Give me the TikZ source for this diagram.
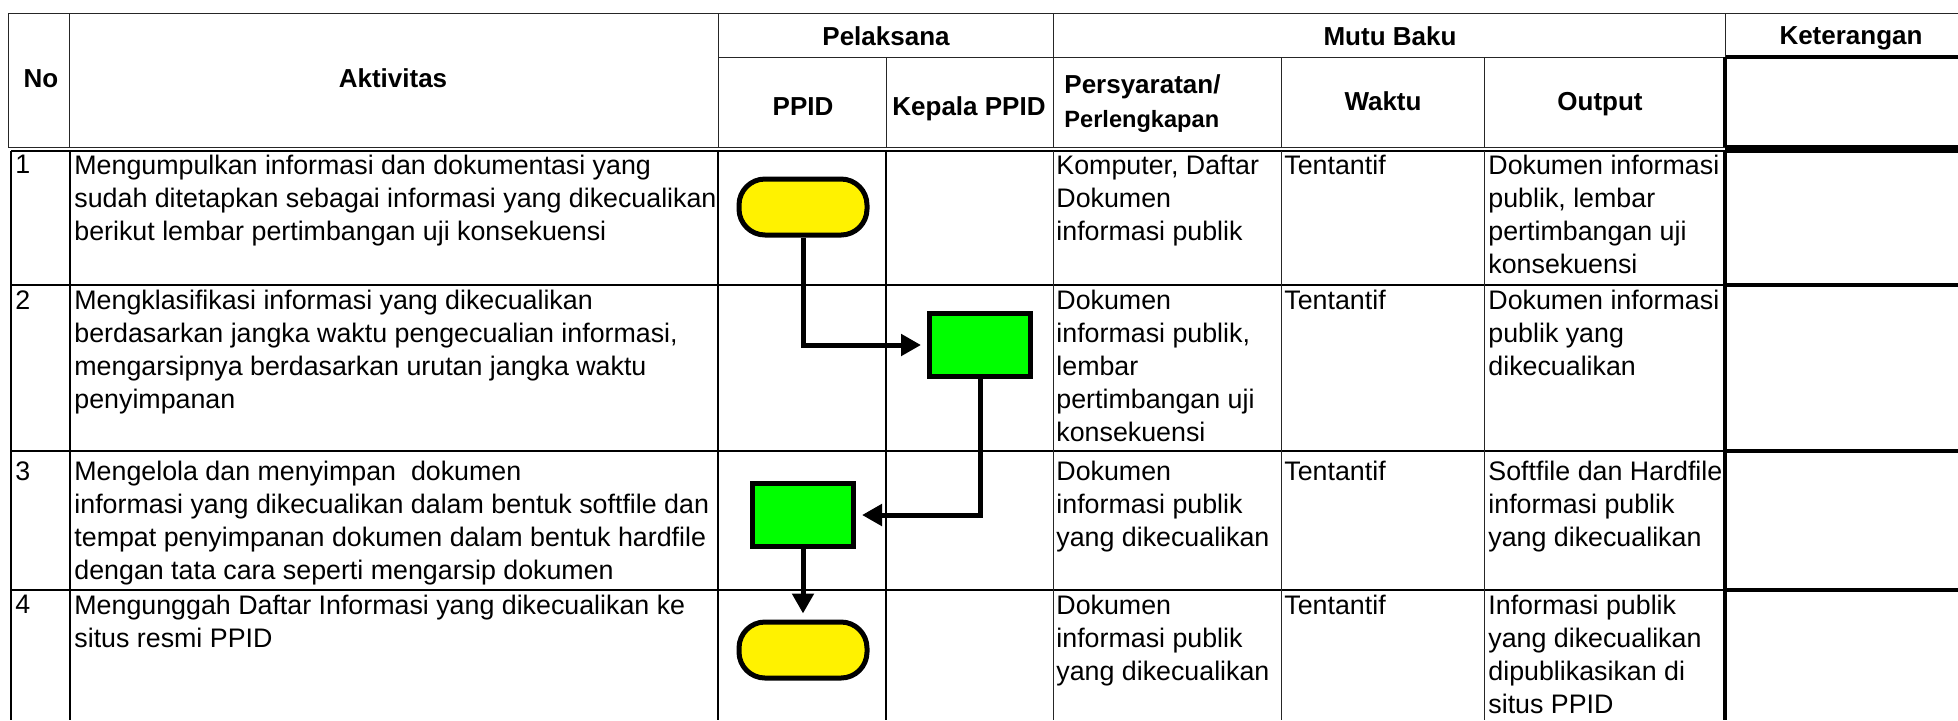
\documentclass[tikz,border=0pt]{standalone}
\usepackage{fontspec}
\setmainfont{Liberation Sans}
\usetikzlibrary{arrows.meta}

\begin{document}
\begin{tikzpicture}[x = 0.5pt, y = -0.5pt]
\tikzstyle{thinline}=[line width = 0.5pt, black!85]
\tikzstyle{rowline}=[line width = 1.1pt]
\tikzstyle{ketline}=[line width = 1.6pt]
\tikzstyle{cell}=[
anchor = north west,
inner sep = 0pt,
align = left,
font = \fontsize{13.4}{16.5}\selectfont]
\tikzstyle{head}=[anchor = base, inner sep = 0pt, font = \bfseries\fontsize{13}{16}\selectfont]
\tikzstyle{terminal}=[draw, line width = 2.5pt, fill = yellow, rounded corners = 13pt, minimum width = 64pt, minimum height = 28pt, inner sep = 0pt]
\tikzstyle{process}=[draw, line width = 2.5pt, fill = green, minimum width = 50.5pt, minimum height = 31.5pt, inner sep = 0pt]
\tikzstyle{flow}=[line width = 2.5pt, -{Triangle[length = 10pt, width = 10.5pt]}, shorten > = 3pt]
\useasboundingbox (0, 0) rectangle (1958, 720);
\draw[thinline] (8, 13) -- (1958, 13);
\draw[thinline] (718, 57) -- (1725, 57);
\draw[ketline] (1725, 57) -- (1958, 57);
\draw[thinline] (8, 147) -- (1725, 147);
\draw[ketline] (1725, 147) -- (1958, 147);
\draw[thinline] (8, 13) -- (8, 147);
\draw[thinline] (69, 13) -- (69, 147);
\draw[thinline] (718, 13) -- (718, 147);
\draw[thinline] (886, 57) -- (886, 147);
\draw[thinline] (1053, 13) -- (1053, 147);
\draw[thinline] (1281, 57) -- (1281, 147);
\draw[thinline] (1484, 57) -- (1484, 147);
\draw[thinline] (1725, 13) -- (1725, 57);
\draw[ketline] (1725, 57) -- (1725, 147);
\draw[rowline] (11, 151) -- (1725, 151);
\draw[rowline] (11, 285) -- (1725, 285);
\draw[rowline] (11, 451) -- (1725, 451);
\draw[rowline] (11, 590) -- (1725, 590);
\draw[ketline] (1725, 151) -- (1958, 151);
\draw[ketline] (1725, 285) -- (1958, 285);
\draw[ketline] (1725, 451) -- (1958, 451);
\draw[ketline] (1725, 590) -- (1958, 590);
\draw[rowline] (11, 151) -- (11, 720);
\draw[rowline] (70, 151) -- (70, 720);
\draw[rowline] (718, 151) -- (718, 720);
\draw[rowline] (886, 151) -- (886, 720);
\draw[thinline] (1053, 151) -- (1053, 720);
\draw[thinline] (1281, 151) -- (1281, 720);
\draw[thinline] (1484, 151) -- (1484, 720);
\draw[ketline] (1725, 151) -- (1725, 720);
\node[head] (hno) at (41, 87) {No};
\node[head] (hakt) at (393, 87) {Aktivitas};
\node[head] (hpel) at (886, 45) {Pelaksana};
\node[head] (hmutu) at (1390, 45) {Mutu Baku};
\node[head] (hket) at (1851, 44) {Keterangan};
\node[head] (hppid) at (803, 115) {PPID};
\node[head] (hkepala) at (969, 115) {Kepala PPID};
\node[head, anchor = base west] (hsyarat) at (1064, 93) {Persyaratan/};
\node[head, anchor = base west, font = \bfseries\fontsize{11.8}{14}\selectfont] (hlengkap) at (1064, 127) {Perlengkapan};
\node[head] (hwaktu) at (1383, 110) {Waktu};
\node[head] (houtput) at (1600, 110) {Output};
\node[cell] (no1) at (15, 155) {1};
\node[cell] (akt1) at (74, 155) {Mengumpulkan informasi dan dokumentasi yang\\sudah ditetapkan sebagai informasi yang dikecualikan\\berikut lembar pertimbangan uji konsekuensi};
\node[cell] (syarat1) at (1056, 155) {Komputer, Daftar\\Dokumen\\informasi publik};
\node[cell] (waktu1) at (1284, 155) {Tentantif};
\node[cell] (output1) at (1488, 155) {Dokumen informasi\\publik, lembar\\pertimbangan uji\\konsekuensi};
\node[cell] (no2) at (15, 290) {2};
\node[cell] (akt2) at (74, 290) {Mengklasifikasi informasi yang dikecualikan\\berdasarkan jangka waktu pengecualian informasi,\\mengarsipnya berdasarkan urutan jangka waktu\\penyimpanan};
\node[cell] (syarat2) at (1056, 290) {Dokumen\\informasi publik,\\lembar\\pertimbangan uji\\konsekuensi};
\node[cell] (waktu2) at (1284, 290) {Tentantif};
\node[cell] (output2) at (1488, 290) {Dokumen informasi\\publik yang\\dikecualikan};
\node[cell] (no3) at (15, 461) {3};
\node[cell] (akt3) at (74, 461) {Mengelola dan menyimpan~ dokumen\\informasi yang dikecualikan dalam bentuk softfile dan\\tempat penyimpanan dokumen dalam bentuk hardfile\\dengan tata cara seperti mengarsip dokumen};
\node[cell] (syarat3) at (1056, 461) {Dokumen\\informasi publik\\yang dikecualikan};
\node[cell] (waktu3) at (1284, 461) {Tentantif};
\node[cell] (output3) at (1488, 461) {Softfile dan Hardfile\\informasi publik\\yang dikecualikan};
\node[cell] (no4) at (15, 595) {4};
\node[cell] (akt4) at (74, 595) {Mengunggah Daftar Informasi yang dikecualikan ke\\situs resmi PPID};
\node[cell] (syarat4) at (1056, 595) {Dokumen\\informasi publik\\yang dikecualikan};
\node[cell] (waktu4) at (1284, 595) {Tentantif};
\node[cell] (output4) at (1488, 595) {Informasi publik\\yang dikecualikan\\dipublikasikan di\\situs PPID};
\node[terminal] (kumpul) at (803, 207) {};
\node[process] (klasifikasi) at (980, 345) {};
\node[process] (simpan) at (803, 515) {};
\node[terminal] (unggah) at (803, 650) {};
\draw[flow] (kumpul) |- (klasifikasi);
\draw[flow] (klasifikasi) |- (simpan);
\draw[flow] (simpan) -- (unggah);
\end{tikzpicture}
\end{document}
